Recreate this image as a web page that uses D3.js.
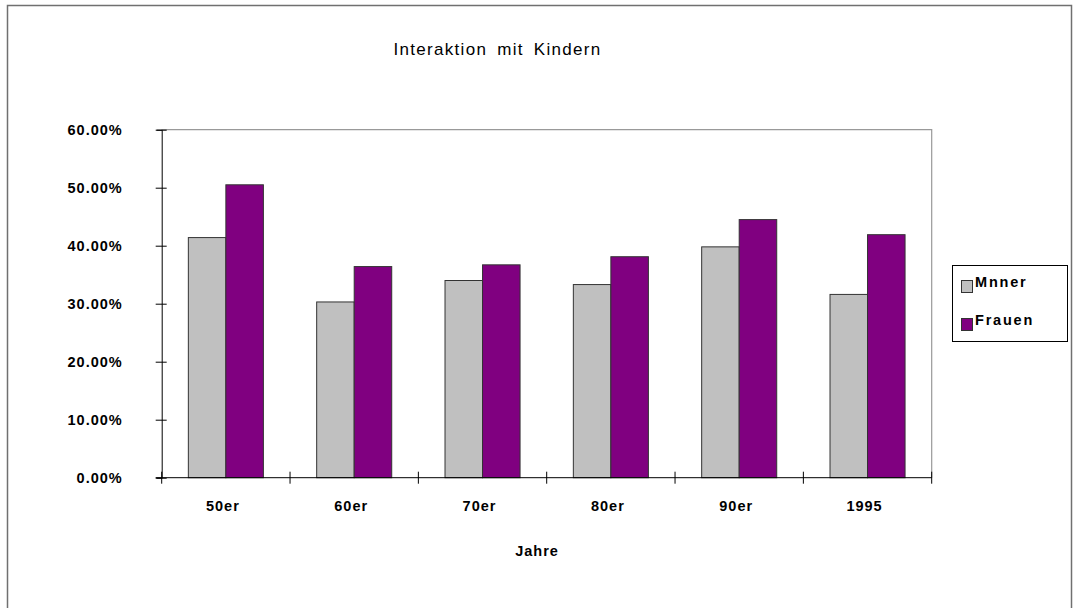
<!DOCTYPE html>
<html>
<head>
<meta charset="utf-8">
<script src="https://cdn.jsdelivr.net/npm/d3@7/dist/d3.min.js"></script>
<style>
  html, body { margin: 0; padding: 0; background: #fff; }
  svg { display: block; }
  text { font-family: "Liberation Sans", Arial, sans-serif; fill: #000; }
</style>
</head>
<body>
<svg id="chart" width="1074" height="608"></svg>
<script>
// Decades and shares of time spent interacting with children
const categories = ["50er", "60er", "70er", "80er", "90er", "1995"];
const seriesNames = ["Mnner", "Frauen"];
const maenner = [0.414, 0.303, 0.340, 0.333, 0.398, 0.316];
const frauen  = [0.505, 0.364, 0.367, 0.381, 0.445, 0.419];
const yTicks = [0, 0.1, 0.2, 0.3, 0.4, 0.5, 0.6];
const colors = ["#C0C0C0", "#800080"];

const title = "Interaktion mit Kindern";
const xTitle = "Jahre";

const svg = d3.select("#chart");

// outer frame
svg.append("rect")
  .attr("x", 7.5).attr("y", 5.5)
  .attr("width", 1064).attr("height", 610)
  .attr("fill", "none").attr("stroke", "#707070").attr("stroke-width", 1.5);

const plot = { left: 161.7, right: 931.7, top: 129.7, bottom: 477.7 };

const x = d3.scaleBand()
  .domain(categories)
  .range([plot.left, plot.right])
  .paddingInner(0).paddingOuter(0);

const xs = d3.scaleBand()
  .domain(seriesNames)
  .range([0, x.bandwidth()])
  .paddingInner(0).paddingOuter(0.71);

const y = d3.scaleLinear().domain([0, 0.6]).range([plot.bottom, plot.top]);

// plot area border (top and right)
svg.append("path")
  .attr("d", `M${plot.left},${plot.top}H${plot.right}V${plot.bottom}`)
  .attr("fill", "none").attr("stroke", "#999").attr("stroke-width", 1.2);

// bars
const rows = categories.map((c, i) => ({ cat: c, vals: [maenner[i], frauen[i]] }));
const groups = svg.append("g").selectAll("g")
  .data(rows).join("g")
  .attr("transform", d => `translate(${x(d.cat)},0)`);

groups.selectAll("rect")
  .data(d => d.vals.map((v, j) => ({ name: seriesNames[j], v, j })))
  .join("rect")
  .attr("x", d => xs(d.name))
  .attr("y", d => y(d.v))
  .attr("width", xs.bandwidth())
  .attr("height", d => y(0) - y(d.v))
  .attr("fill", d => colors[d.j])
  .attr("stroke", "#333")
  .attr("stroke-width", 1);

// y axis with ticks crossing the axis line
const yAxis = svg.append("g")
  .attr("transform", `translate(${plot.left},0)`)
  .call(d3.axisLeft(y).tickValues(yTicks).tickFormat(d3.format(".2%")).tickSize(5).tickPadding(34));
yAxis.select(".domain").attr("stroke", "#000");
yAxis.selectAll(".tick line").attr("x1", 5).attr("x2", -6).attr("stroke", "#000");
yAxis.selectAll(".tick text")
  .style("font-size", "14.5px").style("font-weight", "bold")
  .style("letter-spacing", "1px")
  .attr("dy", "0.3em");

// x axis: labels at category centres, ticks at category boundaries
const xAxis = svg.append("g")
  .attr("transform", `translate(0,${plot.bottom})`)
  .call(d3.axisBottom(x).tickSize(0).tickPadding(23).tickSizeOuter(0));
xAxis.select(".domain").remove();
xAxis.selectAll(".tick text")
  .style("font-size", "14.5px").style("font-weight", "bold")
  .style("letter-spacing", "1px")
  .attr("dx", "-3");

svg.append("line")
  .attr("x1", plot.left - 6).attr("x2", plot.right)
  .attr("y1", plot.bottom).attr("y2", plot.bottom)
  .attr("stroke", "#000");

const boundaries = categories.map(c => x(c)).concat([x(categories[categories.length - 1]) + x.bandwidth()]);
svg.append("g").selectAll("line")
  .data(boundaries).join("line")
  .attr("x1", d => d).attr("x2", d => d)
  .attr("y1", plot.bottom - 6).attr("y2", plot.bottom + 6)
  .attr("stroke", "#000");

// titles
svg.append("text")
  .attr("x", 497.5).attr("y", 55)
  .attr("text-anchor", "middle")
  .style("font-size", "17px")
  .style("letter-spacing", "1.3px").style("word-spacing", "4px")
  .text(title);

svg.append("text")
  .attr("x", 537).attr("y", 556)
  .attr("text-anchor", "middle")
  .style("font-size", "14.5px").style("font-weight", "bold")
  .style("letter-spacing", "1px")
  .text(xTitle);

// legend
const legend = svg.append("g");
legend.append("rect")
  .attr("x", 952.5).attr("y", 265.5).attr("width", 115).attr("height", 76)
  .attr("fill", "#fff").attr("stroke", "#000");
const items = legend.selectAll("g.item")
  .data(seriesNames).join("g").attr("class", "item")
  .attr("transform", (d, i) => `translate(0,${i * 38})`);
items.append("rect")
  .attr("x", 961.5).attr("y", 280.5).attr("width", 11).attr("height", 12)
  .attr("fill", (d, i) => colors[i]).attr("stroke", "#333");
items.append("text")
  .attr("x", 975).attr("y", 287)
  .style("font-size", "14.5px").style("font-weight", "bold")
  .style("letter-spacing", "1.8px")
  .text(d => d);
</script>
</body>
</html>
